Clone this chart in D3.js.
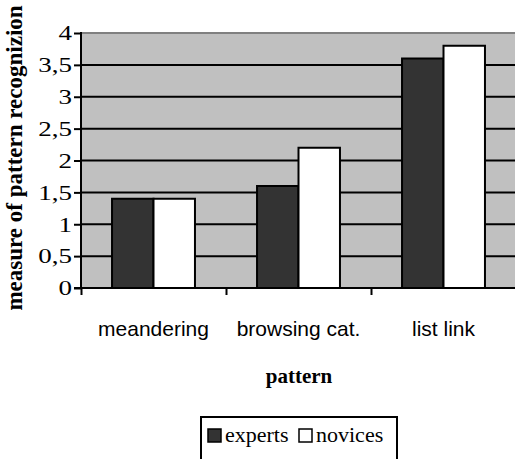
<!DOCTYPE html>
<html>
<head>
<meta charset="utf-8">
<script src="https://cdn.jsdelivr.net/npm/d3@7"></script>
<style>
  body { margin: 0; background: #fff; }
  svg { display: block; }
</style>
</head>
<body>
<div id="chart"></div>
<script>
'use strict';

// data
var categories = ['meandering', 'browsing cat.', 'list link'];
var seriesNames = ['experts', 'novices'];
var experts = [1.4, 1.6, 3.6];
var novices = [1.4, 2.2, 3.8];
var yTicks = [0, 0.5, 1, 1.5, 2, 2.5, 3, 3.5, 4];

var colors = {experts: '#333333', novices: '#ffffff'};
var serif = '"Liberation Serif", "Times New Roman", serif';

var width = 515, height = 459;
var plot = {left: 81, right: 516, top: 33, bottom: 288};

var svg = d3.select('#chart')
  .append('svg')
  .attr('width', width)
  .attr('height', height);

// Scales
var x0 = d3.scaleBand()
  .domain(categories)
  .range([plot.left, plot.right])
  .paddingInner(0.428)
  .paddingOuter(0.214);

var x1 = d3.scaleBand()
  .domain(seriesNames)
  .range([0, x0.bandwidth()])
  .padding(0);

var y = d3.scaleLinear()
  .domain([0, 4])
  .range([plot.bottom, plot.top]);

// plot background
svg.append('rect')
  .attr('x', plot.left)
  .attr('y', plot.top)
  .attr('width', plot.right - plot.left)
  .attr('height', plot.bottom - plot.top)
  .attr('fill', '#c0c0c0');

// top border of the plot area (gray)
svg.append('line')
  .attr('x1', plot.left).attr('x2', plot.right)
  .attr('y1', y(4)).attr('y2', y(4))
  .attr('stroke', '#808080')
  .attr('stroke-width', 2);

// gridlines
svg.append('g')
  .attr('class', 'grid')
  .selectAll('line')
  .data(yTicks.filter(function(d) { return d > 0 && d < 4; }))
  .enter()
  .append('line')
  .attr('x1', plot.left).attr('x2', plot.right)
  .attr('y1', function(d) { return y(d); })
  .attr('y2', function(d) { return y(d); })
  .attr('stroke', '#000')
  .attr('stroke-width', 2);

// bars
var rows = categories.map(function(c, i) {
  return {cat: c, values: [{key: 'experts', value: experts[i]}, {key: 'novices', value: novices[i]}]};
});

var groups = svg.append('g')
  .attr('class', 'bars')
  .selectAll('g')
  .data(rows)
  .enter()
  .append('g')
  .attr('transform', function(d) { return 'translate(' + x0(d.cat) + ',0)'; });

groups.selectAll('rect')
  .data(function(d) { return d.values; })
  .enter()
  .append('rect')
  .attr('x', function(d) { return x1(d.key); })
  .attr('y', function(d) { return y(d.value); })
  .attr('width', x1.bandwidth())
  .attr('height', function(d) { return y(0) - y(d.value); })
  .attr('fill', function(d) { return colors[d.key]; })
  .attr('stroke', '#000')
  .attr('stroke-width', 2);

// y axis
var yAxis = d3.axisLeft(y)
  .tickValues(yTicks)
  .tickSize(7)
  .tickPadding(2)
  .tickFormat(function(d) { return String(d).replace('.', ','); });

var gy = svg.append('g')
  .attr('class', 'y axis')
  .attr('transform', 'translate(' + plot.left + ',0)')
  .call(yAxis);

gy.attr('font-family', serif).attr('font-size', 20);
gy.select('.domain').remove();
gy.append('line')
  .attr('x1', 0).attr('x2', 0)
  .attr('y1', y(4) - 1).attr('y2', y(0) + 1)
  .attr('stroke', '#000').attr('stroke-width', 2);
gy.selectAll('.tick line').attr('stroke-width', 2);
// the source labels are drawn wide, so stretch them horizontally
var stretch = 1.35;
gy.selectAll('.tick text')
  .attr('x', -9 / stretch)
  .attr('dy', '0.34em')
  .attr('transform', 'scale(' + stretch + ',1)')
  .attr('fill', '#000');

// x axis: tick marks at category boundaries
var xb = d3.scaleLinear().domain([0, categories.length]).range([plot.left, plot.right]);
var xAxis = d3.axisBottom(xb)
  .tickValues(d3.range(categories.length + 1))
  .tickSize(7)
  .tickFormat('');

var gx = svg.append('g')
  .attr('class', 'x axis')
  .attr('transform', 'translate(0,' + plot.bottom + ')')
  .call(xAxis);
gx.select('.domain').remove();
gx.append('line')
  .attr('x1', plot.left - 7).attr('x2', plot.right)
  .attr('y1', 0).attr('y2', 0)
  .attr('stroke', '#000').attr('stroke-width', 2);
gx.selectAll('.tick line').attr('stroke-width', 2);

// category labels
svg.append('g')
  .selectAll('text')
  .data(categories)
  .enter()
  .append('text')
  .attr('x', function(d) { return x0(d) + x0.bandwidth() / 2; })
  .attr('y', 336)
  .attr('text-anchor', 'middle')
  .attr('font-family', '"Liberation Sans", Arial, sans-serif')
  .attr('font-size', 21)
  .text(function(d) { return d; });

// axis titles
svg.append('text')
  .attr('x', 299)
  .attr('y', 383)
  .attr('text-anchor', 'middle')
  .attr('font-family', serif)
  .attr('font-weight', 'bold')
  .attr('font-size', 21)
  .text('pattern');

svg.append('text')
  .attr('transform', 'translate(22,158) rotate(-90)')
  .attr('text-anchor', 'middle')
  .attr('font-family', serif)
  .attr('font-weight', 'bold')
  .attr('font-size', 23)
  .text('measure of pattern recognizion');

// legend
var legend = svg.append('g').attr('class', 'legend');
legend.append('rect')
  .attr('x', 201).attr('y', 417)
  .attr('width', 196).attr('height', 60)
  .attr('fill', '#fff')
  .attr('stroke', '#000')
  .attr('stroke-width', 2);

var legendX = [208, 299];
var items = legend.selectAll('g.item')
  .data(seriesNames)
  .enter()
  .append('g')
  .attr('class', 'item')
  .attr('transform', function(d, i) { return 'translate(' + legendX[i] + ',0)'; });

items.append('rect')
  .attr('x', 0).attr('y', 429)
  .attr('width', 13).attr('height', 13)
  .attr('fill', function(d) { return colors[d]; })
  .attr('stroke', '#000')
  .attr('stroke-width', 1.5);

items.append('text')
  .attr('x', 17)
  .attr('y', 442)
  .attr('font-family', serif)
  .attr('font-size', 22)
  .text(function(d) { return d; });
</script>
</body>
</html>
